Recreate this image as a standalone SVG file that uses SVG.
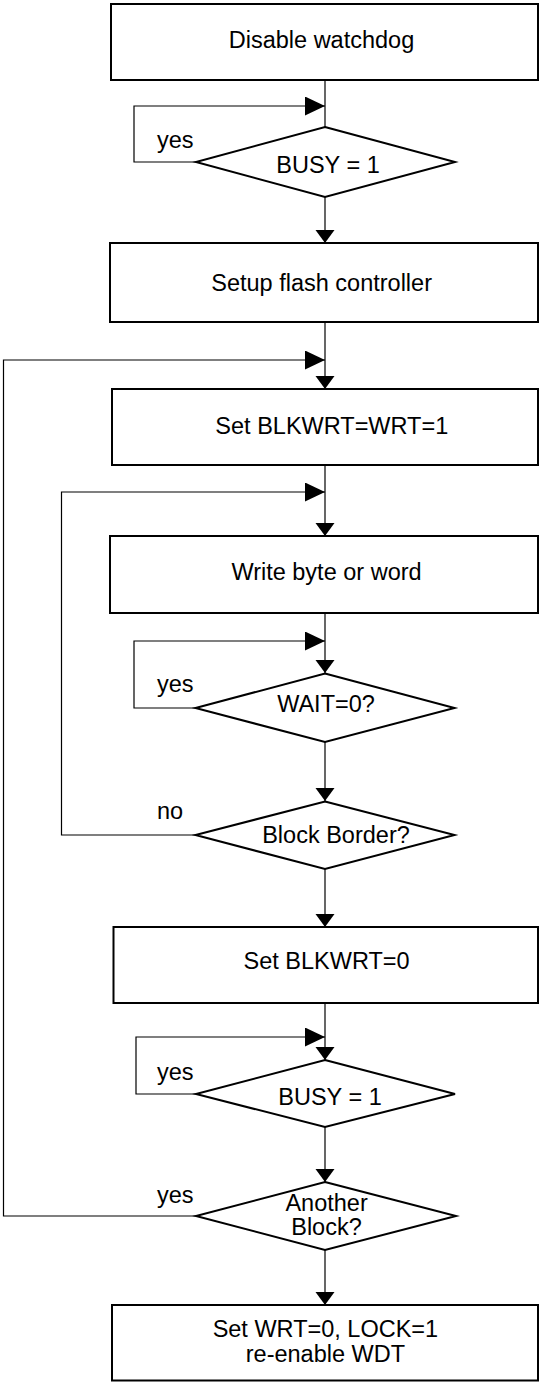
<svg xmlns="http://www.w3.org/2000/svg" width="540" height="1382" viewBox="0 0 540 1382">
<style>
.box{fill:#fff;stroke:#000;stroke-width:2}
.dia{fill:#fff;stroke:#000;stroke-width:2}
.con{fill:none;stroke:#000;stroke-width:1.2}
text{font-family:"Liberation Sans",Arial,sans-serif;font-size:23.5px;fill:#000}
.c{text-anchor:middle}
</style>
<defs>
<marker id="ah" markerUnits="userSpaceOnUse" markerWidth="20" markerHeight="20" refX="20" refY="9.5" orient="auto"><path d="M0,0 L20,9.5 L0,19 z" fill="#000"/></marker>
<marker id="av" markerUnits="userSpaceOnUse" markerWidth="20" markerHeight="20" refX="13" refY="9.5" orient="auto"><path d="M0,0 L13,9.5 L0,19 z" fill="#000"/></marker>
</defs>
<rect width="540" height="1382" fill="#fff"/>
<g id="connectors">
<path class="con" d="M325,80 V127"/>
<path class="con" d="M196,162 H134 V106 H325" marker-end="url(#ah)"/>
<path class="con" d="M325,197 V243" marker-end="url(#av)"/>
<path class="con" d="M325,322 V389" marker-end="url(#av)"/>
<path class="con" d="M196,1216 H3.5 V360 H325" marker-end="url(#ah)"/>
<path class="con" d="M325,465 V536" marker-end="url(#av)"/>
<path class="con" d="M196,835 H61.5 V492 H325" marker-end="url(#ah)"/>
<path class="con" d="M325,613 V673" marker-end="url(#av)"/>
<path class="con" d="M196,708 H134 V641 H325" marker-end="url(#ah)"/>
<path class="con" d="M325,742 V801" marker-end="url(#av)"/>
<path class="con" d="M325,869 V927" marker-end="url(#av)"/>
<path class="con" d="M325,1003 V1060" marker-end="url(#av)"/>
<path class="con" d="M196,1094 H136 V1037 H325" marker-end="url(#ah)"/>
<path class="con" d="M325,1127 V1182" marker-end="url(#av)"/>
<path class="con" d="M325,1250 V1305" marker-end="url(#av)"/>
<text x="157" y="148">yes</text>
<text x="157" y="692">yes</text>
<text x="157" y="819">no</text>
<text x="157" y="1080">yes</text>
<text x="157" y="1203">yes</text>
</g>
<g id="n1"><rect class="box" x="111" y="4" width="427" height="76"/><text class="c" x="321.5" y="48.3">Disable watchdog</text></g>
<g id="d1"><polygon class="dia" points="325,127 455,162 325,197 196,162"/><text class="c" x="328" y="172.7">BUSY = 1</text></g>
<g id="n2"><rect class="box" x="110" y="243" width="428" height="79"/><text class="c" x="321.6" y="291">Setup flash controller</text></g>
<g id="n3"><rect class="box" x="112" y="389" width="426" height="76"/><text class="c" x="331.8" y="434.3">Set BLKWRT=WRT=1</text></g>
<g id="n4"><rect class="box" x="110" y="536" width="428" height="77"/><text class="c" x="326.5" y="580">Write byte or word</text></g>
<g id="d2"><polygon class="dia" points="325,673.5 454.5,708 325,742 195.5,708"/><text class="c" x="326" y="712.3">WAIT=0?</text></g>
<g id="d3"><polygon class="dia" points="325,801.5 454.5,835 325,869 195.5,835"/><text class="c" x="336" y="842.7">Block Border?</text></g>
<g id="n5"><rect class="box" x="113.5" y="927" width="424.5" height="76"/><text class="c" x="326.6" y="969">Set BLKWRT=0</text></g>
<g id="d4"><polygon class="dia" points="325,1060 455,1094 325,1127 196,1094"/><text class="c" x="330" y="1105">BUSY = 1</text></g>
<g id="d5"><polygon class="dia" points="325,1182 456,1216 325,1250 196,1216"/><text class="c" x="326.6" y="1211">Another</text><text class="c" x="326.5" y="1235">Block?</text></g>
<g id="n6"><rect class="box" x="112" y="1305" width="426" height="75.5"/><text class="c" x="325.4" y="1337">Set WRT=0, LOCK=1</text><text class="c" x="325.4" y="1362">re-enable WDT</text></g>
</svg>
